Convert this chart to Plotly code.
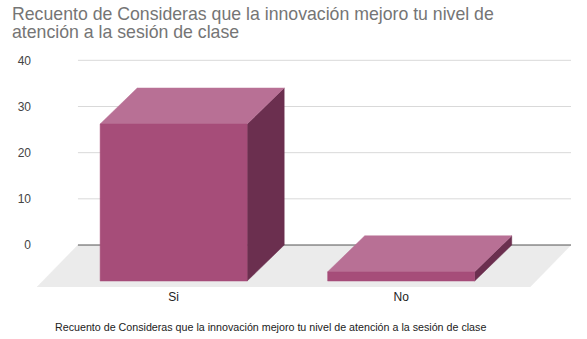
import plotly.graph_objects as go

# ---- data ----
categories = ["Si", "No"]
counts = [34, 2]
y_ticks = [0, 10, 20, 30, 40]
title_lines = ["Recuento de Consideras que la innovación mejoro tu nivel de",
               "atención a la sesión de clase"]
x_title = "Recuento de Consideras que la innovación mejoro tu nivel de atención a la sesión de clase"

# ---- style / geometry constants ----
FRONT = "#a64d79"
TOP = "#b87095"
SIDE = "#6b2f4f"
FLOOR = "#ebebeb"
GRID = "#d9d9d9"
ZERO = "#555555"

half_w = 0.323          # half bar width (category units)
bar_dx, bar_dy = 0.163, 7.8     # depth offset of bars
floor_dx, floor_dy = 0.18, 9.09  # depth offset of floor
floor_x0, floor_x1 = -0.5835, 1.5835

fig = go.Figure()

def poly(xs, ys, color, line_color=None):
    fig.add_trace(go.Scatter(
        x=xs + [xs[0]], y=ys + [ys[0]], mode="lines", fill="toself",
        fillcolor=color, line=dict(color=line_color or color, width=0.5),
        hoverinfo="skip", showlegend=False))

# floor
poly([floor_x0, floor_x1, floor_x1 - floor_dx, floor_x0 - floor_dx],
     [0, 0, -floor_dy, -floor_dy], FLOOR)

# gridlines on back wall
for t in y_ticks:
    fig.add_trace(go.Scatter(
        x=[floor_x0, floor_x1], y=[t, t], mode="lines",
        line=dict(color=ZERO if t == 0 else GRID, width=1),
        hoverinfo="skip", showlegend=False))

# 3D bars
for i, v in enumerate(counts):
    xl_f, xr_f = i - half_w - bar_dx, i + half_w - bar_dx
    xl_b, xr_b = i - half_w, i + half_w
    y_bot_f, y_top_f = -bar_dy, v - bar_dy
    # side face
    poly([xr_f, xr_b, xr_b, xr_f], [y_bot_f, 0, v, y_top_f], SIDE)
    # top face
    poly([xl_f, xr_f, xr_b, xl_b], [y_top_f, y_top_f, v, v], TOP)
    # front face
    poly([xl_f, xr_f, xr_f, xl_f], [y_bot_f, y_bot_f, y_top_f, y_top_f], FRONT)

W, H = 587, 339
ml, mr, mt, mb = 37, 16, 57.7, 52
fig.update_layout(
    width=W, height=H,
    margin=dict(l=ml, r=mr, t=mt, b=mb),
    paper_bgcolor="white", plot_bgcolor="white",
    font=dict(family="Liberation Sans, Arial, sans-serif"),
    showlegend=False,
    xaxis=dict(range=[floor_x0 - floor_dx, floor_x1], showgrid=False, zeroline=False,
               showline=False, tickmode="array",
               tickvals=[i - bar_dx for i in range(len(categories))],
               ticktext=categories, ticks="",
               tickfont=dict(size=12, color="#222222"), ticklabelstandoff=1,
               fixedrange=True),
    yaxis=dict(range=[-floor_dy, 40.5], showgrid=False, zeroline=False,
               showline=False, tickmode="array", tickvals=y_ticks,
               ticktext=[str(t) for t in y_ticks], ticks="",
               tickfont=dict(size=12, color="#444444"), ticklabelstandoff=5,
               fixedrange=True),
)

annotations = [
    dict(text=title_lines[0], xref="paper", yref="paper", x=(10 - ml) / (W - ml - mr),
         y=1 + (mt - 1.5) / (H - mt - mb), xanchor="left", yanchor="top", showarrow=False,
         font=dict(size=17.7, color="#757575")),
    dict(text=title_lines[1], xref="paper", yref="paper", x=(10 - ml) / (W - ml - mr),
         y=1 + (mt - 19.3) / (H - mt - mb), xanchor="left", yanchor="top", showarrow=False,
         font=dict(size=17.7, color="#757575")),
    dict(text=x_title, xref="paper", yref="paper", x=(270 - ml) / (W - ml - mr),
         y=-(327.5 - (H - mb)) / (H - mt - mb), xanchor="center", yanchor="middle",
         showarrow=False, font=dict(size=10.7, color="#222222")),
]
fig.update_layout(annotations=annotations)

fig.write_html("out.html")
